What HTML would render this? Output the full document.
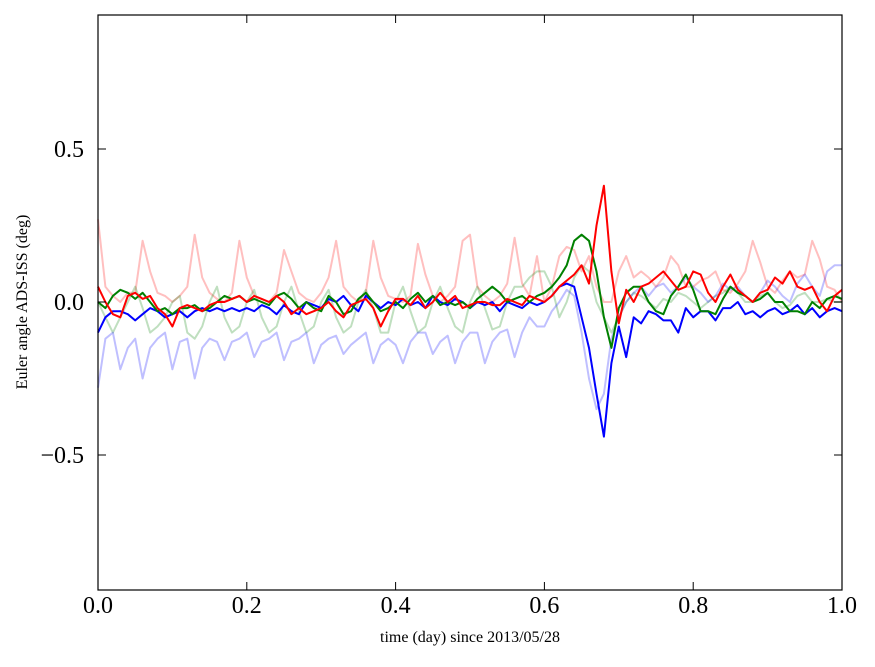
<!DOCTYPE html>
<html><head><meta charset="utf-8"><style>
body{margin:0;background:#fff;}
svg text{font-family:"Liberation Serif",serif;}
</style></head><body>
<svg id="chart" width="875" height="662" xmlns="http://www.w3.org/2000/svg">
<rect x="0" y="0" width="875" height="662" fill="#fff"/>
<g id="series"></g>
<g id="axes"></g>
<text x="470" y="642" font-size="16" text-anchor="middle">time (day) since 2013/05/28</text>
<text transform="translate(27,302) rotate(-90)" font-size="16" text-anchor="middle">Euler angle ADS-ISS (deg)</text>
</svg>
<script>
const xTicks=[0,0.2,0.4,0.6,0.8,1.0];
const xTickLabels=["0.0","0.2","0.4","0.6","0.8","1.0"];
const yTicks=[0.5,0,-0.5];
const yTickLabels=["0.5","0.0","\u22120.5"];
const fadedRed=[0.27,0.05,0.02,0.0,0.03,0.03,0.2,0.1,0.03,0.02,0.0,0.02,0.05,0.22,0.08,0.03,0.01,0.0,0.03,0.2,0.08,0.02,0.01,0.0,0.03,0.17,0.1,0.03,0.01,0.0,0.03,0.08,0.2,0.05,0.02,0.0,0.03,0.2,0.08,0.02,0.01,0.0,0.02,0.19,0.09,0.02,0.0,0.02,0.05,0.2,0.22,0.05,0.02,0.0,0.02,0.06,0.21,0.06,0.02,0.15,0.0,0.05,0.15,0.18,0.17,0.1,0.15,0.05,0.0,0.0,0.1,0.15,0.08,0.1,0.08,0.05,0.08,0.15,0.12,0.05,0.05,0.07,0.08,0.1,0.04,0.03,0.06,0.1,0.2,0.13,0.05,0.03,0.07,0.1,0.08,0.09,0.2,0.14,0.05,0.04,0.0];
const fadedGreen=[0.0,-0.05,-0.1,-0.05,0.0,0.05,-0.02,-0.1,-0.08,-0.05,0.0,0.02,-0.1,-0.12,-0.08,0.0,0.05,-0.05,-0.1,-0.08,0.0,0.04,-0.05,-0.1,-0.08,0.0,0.05,-0.03,-0.1,-0.08,0.0,0.04,-0.05,-0.1,-0.08,0.0,0.04,-0.02,-0.1,-0.1,0.0,0.05,-0.03,-0.1,-0.08,0.0,0.05,-0.02,-0.08,-0.1,0.0,0.05,-0.02,-0.09,-0.08,0.0,0.05,0.05,0.08,0.1,0.1,0.05,-0.05,0.0,0.08,0.12,0.1,0.0,-0.05,-0.1,-0.05,0.0,0.03,0.02,0.0,-0.02,0.01,0.0,0.03,0.02,0.0,-0.02,0.0,0.02,0.03,0.05,0.03,0.0,0.0,0.02,0.03,0.0,-0.02,-0.01,0.02,0.03,0.0,0.0,0.01,0.0,0.0];
const fadedBlue=[-0.28,-0.12,-0.1,-0.22,-0.15,-0.12,-0.25,-0.15,-0.12,-0.1,-0.22,-0.13,-0.12,-0.25,-0.15,-0.12,-0.13,-0.19,-0.13,-0.12,-0.1,-0.18,-0.13,-0.12,-0.1,-0.19,-0.13,-0.12,-0.1,-0.2,-0.14,-0.12,-0.11,-0.17,-0.14,-0.12,-0.1,-0.2,-0.14,-0.12,-0.14,-0.2,-0.13,-0.1,-0.1,-0.17,-0.13,-0.11,-0.2,-0.13,-0.1,-0.1,-0.2,-0.13,-0.1,-0.09,-0.18,-0.1,-0.05,-0.08,-0.08,-0.03,0.0,0.04,0.02,-0.1,-0.25,-0.35,-0.3,-0.12,-0.05,0.0,0.03,0.05,0.02,0.05,0.06,0.03,0.05,0.08,0.05,0.03,0.0,0.02,0.06,0.04,0.05,0.02,0.0,0.03,0.07,0.05,0.02,0.0,0.06,0.09,0.05,0.02,0.1,0.12,0.12];
const redVals=[0.05,0.0,-0.04,-0.05,0.02,0.03,0.01,0.02,-0.02,-0.04,-0.08,-0.02,-0.01,-0.02,-0.03,-0.01,0.0,0.0,0.01,0.02,0.0,0.02,0.01,0.0,0.02,0.0,-0.04,-0.02,-0.04,-0.03,-0.02,0.0,-0.03,-0.05,-0.01,0.0,0.01,-0.02,-0.08,-0.03,0.01,0.01,-0.01,0.02,-0.02,0.0,0.03,0.0,0.02,-0.02,-0.01,0.0,0.0,-0.01,-0.01,0.01,0.0,-0.01,0.02,0.01,0.0,0.02,0.05,0.07,0.09,0.12,0.06,0.25,0.38,0.1,-0.07,0.04,0.0,0.05,0.06,0.08,0.1,0.07,0.04,0.05,0.1,0.09,0.03,0.0,0.05,0.09,0.04,0.02,0.0,0.03,0.04,0.08,0.06,0.1,0.05,0.04,0.05,0.0,-0.03,0.02,0.04];
const greenVals=[0.0,-0.02,0.02,0.04,0.03,0.01,0.03,0.0,-0.03,-0.02,-0.04,-0.02,-0.02,-0.01,-0.03,-0.02,0.0,0.02,0.01,0.02,0.0,0.01,0.0,-0.01,0.02,0.03,0.01,-0.02,0.0,-0.02,-0.03,0.02,0.0,-0.04,-0.03,0.01,0.03,0.0,-0.03,-0.02,0.0,-0.02,0.01,0.03,0.0,0.02,-0.01,0.0,-0.01,0.0,-0.02,0.01,0.03,0.05,0.03,0.0,0.01,0.02,0.0,0.02,0.03,0.05,0.08,0.12,0.2,0.22,0.2,0.1,-0.05,-0.15,-0.02,0.03,0.05,0.05,0.0,-0.03,-0.04,0.02,0.05,0.09,0.04,-0.03,-0.03,-0.04,0.01,0.05,0.03,0.02,0.0,0.01,0.03,0.0,0.0,-0.03,-0.03,-0.04,0.0,-0.02,0.01,0.02,0.01];
const blueVals=[-0.1,-0.05,-0.03,-0.03,-0.04,-0.06,-0.04,-0.02,-0.03,-0.05,-0.04,-0.03,-0.05,-0.03,-0.02,-0.03,-0.02,-0.03,-0.02,-0.03,-0.02,-0.03,-0.01,-0.02,-0.04,-0.01,-0.03,-0.04,0.0,-0.01,-0.02,0.01,0.0,0.02,-0.01,-0.03,0.02,0.0,-0.02,0.0,-0.01,0.01,-0.01,0.0,-0.02,0.02,0.0,-0.01,0.01,0.0,-0.02,0.0,-0.01,0.0,-0.03,0.0,-0.01,-0.02,0.0,-0.01,0.0,0.02,0.05,0.06,0.05,-0.05,-0.15,-0.3,-0.44,-0.2,-0.08,-0.18,-0.05,-0.07,-0.03,-0.04,-0.06,-0.06,-0.1,-0.02,-0.05,-0.03,-0.03,-0.06,-0.02,-0.02,0.0,-0.04,-0.03,-0.05,-0.03,-0.02,-0.04,-0.03,-0.01,-0.04,-0.02,-0.05,-0.03,-0.02,-0.03];

const L=98,R=842,T=15,B=590;
const xs=t=>L+(R-L)*t;
const ys=v=>302-306*v;
const NS="http://www.w3.org/2000/svg";
const sg=document.getElementById('series');
function drawLine(vals,color,op,name){
  const n=vals.length;
  const d=vals.map((v,i)=>(i?'L':'M')+xs(i/(n-1)).toFixed(1)+','+ys(v).toFixed(1)).join(' ');
  const p=document.createElementNS(NS,'path');
  p.setAttribute('d',d);p.setAttribute('fill','none');p.setAttribute('stroke',color);
  p.setAttribute('stroke-width','2');p.setAttribute('stroke-opacity',op);
  p.setAttribute('stroke-linejoin','round');
  
  
  sg.appendChild(p);
}
drawLine(fadedRed,'#ff0000',0.25,'faded-red-line');
drawLine(fadedGreen,'#008000',0.25,'faded-green-line');
drawLine(fadedBlue,'#0000ff',0.25,'faded-blue-line');
drawLine(blueVals,'#0000ff',1,'blue-line');
drawLine(greenVals,'#008000',1,'green-line');
drawLine(redVals,'#ff0000',1,'red-line');

const ag=document.getElementById('axes');
const fr=document.createElementNS(NS,'rect');
fr.setAttribute('x',L);fr.setAttribute('y',T);fr.setAttribute('width',R-L);fr.setAttribute('height',B-T);
fr.setAttribute('fill','none');fr.setAttribute('stroke','#000');fr.setAttribute('stroke-width','1.2');


ag.appendChild(fr);
function ln(x1,y1,x2,y2){const l=document.createElementNS(NS,'line');l.setAttribute('x1',x1);l.setAttribute('y1',y1);l.setAttribute('x2',x2);l.setAttribute('y2',y2);l.setAttribute('stroke','#000');l.setAttribute('stroke-width','1');


ag.appendChild(l);}
xTicks.forEach((t,i)=>{
  const x=xs(t);ln(x,B,x,B-8);ln(x,T,x,T+8);
  const tx=document.createElementNS(NS,'text');
  tx.setAttribute('x',x);tx.setAttribute('y',613);tx.setAttribute('font-size','24');tx.setAttribute('text-anchor','middle');
  tx.textContent=xTickLabels[i];
  
  
  ag.appendChild(tx);
});
yTicks.forEach((v,i)=>{
  const y=ys(v);ln(L,y,L+8,y);ln(R,y,R-8,y);
  const tx=document.createElementNS(NS,'text');
  tx.setAttribute('x',84);tx.setAttribute('y',y+8);tx.setAttribute('font-size','24');tx.setAttribute('text-anchor','end');
  tx.textContent=yTickLabels[i];
  
  
  ag.appendChild(tx);
});
</script>
</body></html>
